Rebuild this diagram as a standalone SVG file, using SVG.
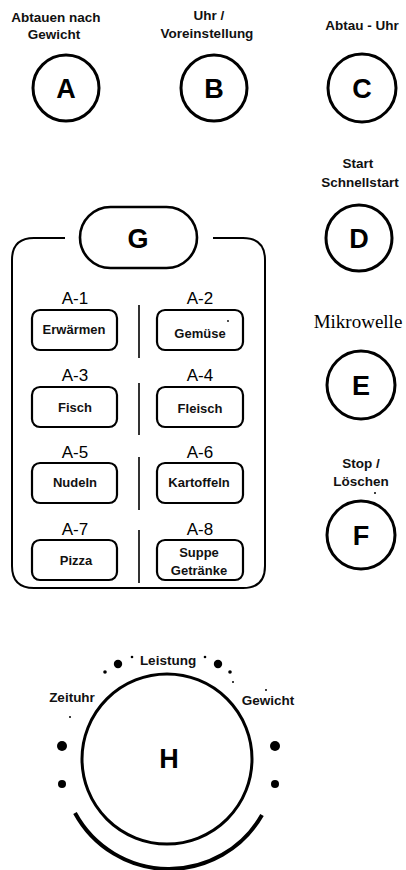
<svg xmlns="http://www.w3.org/2000/svg" width="406" height="870" viewBox="0 0 406 870">
<style>
.lbl{font-family:"Liberation Sans",Arial,sans-serif;font-weight:bold;font-size:13.5px;fill:#111;text-anchor:middle}
.big{font-family:"Liberation Sans",Arial,sans-serif;font-weight:bold;font-size:27px;fill:#000;text-anchor:middle}
.code{font-family:"Liberation Sans",Arial,sans-serif;font-size:17px;fill:#000;text-anchor:middle}
.btxt{font-family:"Liberation Sans",Arial,sans-serif;font-weight:bold;font-size:13px;fill:#111;text-anchor:middle}
.ser{font-family:"Liberation Serif","Times New Roman",serif;font-size:19px;fill:#000;text-anchor:middle}
.ring{fill:none;stroke:#000;stroke-width:3}
.btn{fill:#fff;stroke:#000;stroke-width:2.2}
.div{stroke:#333;stroke-width:2}
.dot{fill:#000}
</style>
<rect width="406" height="870" fill="#fff"/>

<g id="node-A">
<text class="lbl" x="56" y="22">Abtauen nach</text>
<text class="lbl" x="54" y="39">Gewicht</text>
<circle class="ring" cx="66" cy="88" r="33"/>
<text class="big" x="66" y="98">A</text>
</g>
<g id="node-B">
<text class="lbl" x="209" y="20">Uhr /</text>
<text class="lbl" x="207" y="38">Voreinstellung</text>
<circle class="ring" cx="214" cy="88" r="33"/>
<text class="big" x="214" y="98">B</text>
</g>
<g id="node-C">
<text class="lbl" x="362" y="30">Abtau - Uhr</text>
<circle class="ring" cx="362" cy="88" r="34"/>
<text class="big" x="362" y="98">C</text>
</g>
<g id="node-D">
<text class="lbl" x="358" y="168">Start</text>
<text class="lbl" x="360" y="187">Schnellstart</text>
<circle class="ring" cx="359" cy="238" r="33"/>
<text class="big" x="359" y="248">D</text>
</g>
<g id="node-E">
<text class="ser" x="358" y="328">Mikrowelle</text>
<circle class="ring" cx="361" cy="385" r="34"/>
<text class="big" x="361" y="395">E</text>
</g>
<g id="node-F">
<text class="lbl" x="361" y="468">Stop /</text>
<text class="lbl" x="361" y="486">Löschen</text>
<circle class="dot" cx="375" cy="493" r="1"/>
<circle class="ring" cx="361" cy="535" r="34"/>
<text class="big" x="361" y="545">F</text>
</g>

<g id="node-G">
<path d="M65 238 H34 Q12 238 12 260 V566 Q12 588 34 588 H243 Q265 588 265 566 V260 Q265 238 243 238 H213" fill="none" stroke="#000" stroke-width="2"/>
<rect x="80" y="207" width="117" height="61" rx="30.5" fill="#fff" stroke="#000" stroke-width="2.6"/>
<text class="big" x="138" y="248">G</text>
<g id="dividers">
<line class="div" x1="139" y1="305" x2="139" y2="358"/>
<line class="div" x1="139" y1="383" x2="139" y2="435"/>
<line class="div" x1="139" y1="457" x2="139" y2="510"/>
<line class="div" x1="139" y1="530" x2="139" y2="583"/>
</g>
</g>

<g id="node-A1">
<text class="code" x="75" y="304">A-1</text>
<rect class="btn" x="32" y="310" width="85" height="40" rx="8"/>
<text class="btxt" x="74" y="334">Erwärmen</text>
</g>
<g id="node-A2">
<text class="code" x="200" y="304">A-2</text>
<rect class="btn" x="157" y="310" width="86" height="40" rx="8"/>
<text class="btxt" x="200" y="338">Gemüse</text>
<circle class="dot" cx="228" cy="321" r="0.9"/>
</g>
<g id="node-A3">
<text class="code" x="75" y="381">A-3</text>
<rect class="btn" x="32" y="387" width="85" height="40" rx="8"/>
<text class="btxt" x="75" y="412">Fisch</text>
</g>
<g id="node-A4">
<text class="code" x="200" y="381">A-4</text>
<rect class="btn" x="157" y="387" width="86" height="40" rx="8"/>
<text class="btxt" x="200" y="413">Fleisch</text>
</g>
<g id="node-A5">
<text class="code" x="75" y="458">A-5</text>
<rect class="btn" x="32" y="463" width="85" height="40" rx="8"/>
<text class="btxt" x="75" y="487">Nudeln</text>
</g>
<g id="node-A6">
<text class="code" x="200" y="458">A-6</text>
<rect class="btn" x="157" y="463" width="86" height="40" rx="8"/>
<text class="btxt" x="199" y="487">Kartoffeln</text>
</g>
<g id="node-A7">
<text class="code" x="75" y="535">A-7</text>
<rect class="btn" x="32" y="540" width="85" height="40" rx="8"/>
<text class="btxt" x="76" y="565">Pizza</text>
</g>
<g id="node-A8">
<text class="code" x="200" y="535">A-8</text>
<rect class="btn" x="157" y="540" width="86" height="40" rx="8"/>
<text class="btxt" x="199" y="557">Suppe</text>
<text class="btxt" x="199" y="575">Getränke</text>
</g>

<g id="node-H">
<text class="lbl" x="168" y="665">Leistung</text>
<text class="lbl" x="72" y="702">Zeituhr</text>
<text class="lbl" x="268" y="705">Gewicht</text>
<circle class="ring" cx="167" cy="759" r="85"/>
<text class="big" x="169" y="768">H</text>
<path d="M75 813 A107 107 0 0 0 262 815" fill="none" stroke="#000" stroke-width="4"/>
<circle class="dot" cx="62" cy="746" r="5"/>
<circle class="dot" cx="275" cy="746" r="5"/>
<circle class="dot" cx="62" cy="784" r="4"/>
<circle class="dot" cx="275" cy="784" r="4"/>
<circle class="dot" cx="118" cy="664" r="4.2"/>
<circle class="dot" cx="218" cy="664" r="4.2"/>
<circle class="dot" cx="105" cy="672" r="1.8"/>
<circle class="dot" cx="230" cy="672" r="1.8"/>
<circle class="dot" cx="132" cy="657" r="1.3"/>
<circle class="dot" cx="205" cy="657" r="1.3"/>
<circle class="dot" cx="233" cy="682" r="1"/>
<circle class="dot" cx="266" cy="690" r="1"/>
<circle class="dot" cx="70" cy="717" r="1"/>
</g>

<g id="connectors"/>
</svg>
